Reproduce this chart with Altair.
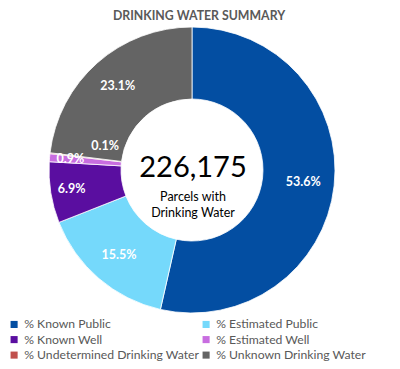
import altair as alt
import pandas as pd

categories = ["% Known Public", "% Estimated Public", "% Known Well",
              "% Estimated Well", "% Undetermined Drinking Water", "% Unknown Drinking Water"]
values = [53.6, 15.5, 6.9, 0.9, 0.1, 23.1]
colors = ["#034EA2", "#75D9FB", "#5A0EA0", "#C86DE0", "#C0504D", "#646464"]
total_text = "226,175"
center_lines = ["Parcels with", "Drinking Water"]
title_text = "DRINKING WATER SUMMARY"

df = pd.DataFrame({"cat": categories, "pct": values, "order": list(range(len(categories)))})

FONT = "Lato"
CX, CY = 184, 162

# legend is laid out column by column: reorder so it reads row by row like the reference
legend_domain = [categories[i] for i in (0, 2, 4, 1, 3, 5)]
legend_range = [colors[i] for i in (0, 2, 4, 1, 3, 5)]

color = alt.Color("cat:N", scale=alt.Scale(domain=legend_domain, range=legend_range),
                  legend=alt.Legend(title=None, orient="none", legendX=0, legendY=310,
                                    columns=2, symbolType="square", symbolSize=50,
                                    labelFontSize=12.2, labelFont=FONT, labelColor="#595959",
                                    symbolStrokeWidth=0, rowPadding=2.5, columnPadding=-1,
                                    labelOffset=4, labelLimit=300, padding=0))

base = alt.Chart(df).encode(
    theta=alt.Theta("pct:Q", stack=True),
    order=alt.Order("order:Q"),
)

arcs = base.mark_arc(radius=143, radius2=71, stroke="white", strokeWidth=0.8).encode(
    color=color, x=alt.value(CX), y=alt.value(CY)
)

# labels at the middle of each slice; a tiny slice's label is nudged past its neighbour
labels = alt.Chart(df).transform_window(
    cum="sum(pct)", sort=[alt.SortField("order")]
).transform_calculate(
    mid="datum.pct < 0.5 ? datum.cum + 2.3 : datum.cum - datum.pct / 2",
    label="format(datum.pct, '.1f') + '%'",
    r="datum.pct < 0.5 ? 90 : (datum.pct < 10 ? 122 : 112)"
).mark_text(font=FONT, fontSize=12.5, fontWeight="bold", color="white").encode(
    theta=alt.Theta("mid:Q", stack=None),
    text="label:N", x=alt.value(CX), y=alt.value(CY),
    radius=alt.Radius("r:Q", scale=None)
)

texts = pd.DataFrame({"t": [title_text, total_text] + center_lines,
                      "k": ["title", "total", "l1", "l2"]})

title = alt.Chart(texts).transform_filter("datum.k == 'title'").mark_text(
    font=FONT, fontSize=12.3, fontWeight="bold", color="#595959"
).encode(text="t:N", x=alt.value(191), y=alt.value(8))

total = alt.Chart(texts).transform_filter("datum.k == 'total'").mark_text(
    font=FONT, fontSize=29, color="black"
).encode(text="t:N", x=alt.value(CX + 1), y=alt.value(CY - 2))

l1 = alt.Chart(texts).transform_filter("datum.k == 'l1'").mark_text(
    font=FONT, fontSize=12.5, color="black"
).encode(text="t:N", x=alt.value(CX + 1), y=alt.value(CY + 27))

l2 = alt.Chart(texts).transform_filter("datum.k == 'l2'").mark_text(
    font=FONT, fontSize=12.5, color="black"
).encode(text="t:N", x=alt.value(CX + 1), y=alt.value(CY + 43))

chart = alt.layer(arcs, labels, title, total, l1, l2).properties(
    width=384, height=353, autosize=alt.AutoSizeParams(type="none"), padding=0
).configure_view(stroke=None)

chart.save("out.html", embed_options={"renderer": "svg", "actions": False})
